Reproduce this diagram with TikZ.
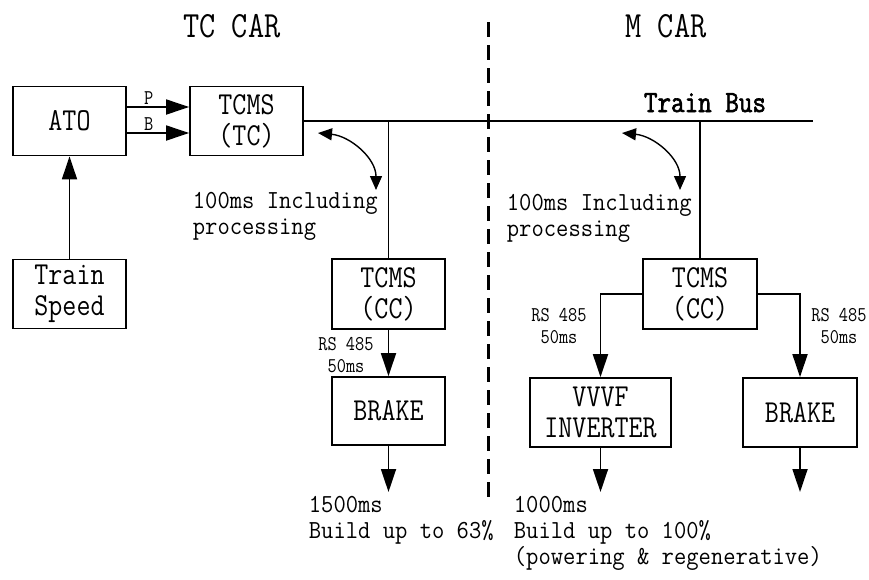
\documentclass[tikz,border=0pt]{standalone}
\usepackage{fontspec}
\setmainfont{Liberation Serif}
\newfontfamily\diagfont[FakeStretch=0.85]{Latin Modern Mono}
\newfontfamily\notefont[FakeStretch=0.92]{Latin Modern Mono}
\newfontfamily\busfont[FakeStretch=0.85, FakeBold=2]{Latin Modern Mono}
\usetikzlibrary{arrows.meta}

\newcommand{\boxfont}{\diagfont\fontsize{32}{31}\selectfont}
\newcommand{\labelfont}{\notefont\fontsize{26}{26}\selectfont}
\newcommand{\tinyfont}{\diagfont\fontsize{21}{22}\selectfont}
\newcommand{\titlefont}{\diagfont\fontsize{37}{37}\selectfont}

\tikzset{
  unitbox/.style={draw, line width=1.8pt, align=center, inner sep=0pt,
    minimum width=113pt, minimum height=69pt, font=\boxfont},
  labeltext/.style={inner sep=0pt, align=left, anchor=base west, font=\labelfont},
  ratetext/.style={inner sep=0pt, align=center, anchor=base, font=\tinyfont},
  looparrow/.style={line width=1.4pt,
    {Triangle[length=14pt,width=12pt]}-{Triangle[length=14pt,width=12pt]}},
}

\begin{document}
\begin{tikzpicture}[x=1pt, y=-1pt, line width=1.8pt,
    >={Triangle[length=23pt,width=15pt]}]
    \useasboundingbox (0,0) rectangle (869,579);

    % titles
    \node[font=\titlefont, anchor=base] (tctitle) at (232,37) {TC CAR};
    \node[font=\titlefont, anchor=base] (mtitle) at (666,37) {M CAR};

    % car divider (base of a multi-line node = its last line)
    \coordinate (divtop) at (488,22);
    \coordinate (divbot) at (488,500);
    \draw[line width=3pt, dash pattern=on 15pt off 8pt] (divtop) -- (divbot);

    % TC car
    \node[unitbox] (ato) at (69.5,121) {ATO};
    \node[unitbox] (tctc) at (246.5,121) {TCMS\\(TC)};
    \node[unitbox] (speed) at (69.5,294) {Train\\Speed};
    \node[unitbox, minimum height=70pt] (ccl) at (388.5,294) {TCMS\\(CC)};
    \node[unitbox, minimum height=68pt] (brakel) at (388.5,411) {BRAKE};

    \draw[->] ([yshift=14pt]ato.east) -- ([yshift=14pt]tctc.west)
        node[pos=0.35, above=2pt, inner sep=0pt, font=\tinyfont] (plbl) {P};
    \draw[->] ([yshift=-12pt]ato.east) -- ([yshift=-12pt]tctc.west)
        node[pos=0.35, above=2pt, inner sep=0pt, font=\tinyfont] (blbl) {B};
    \draw[->] (speed) -- (ato);

    % train bus
    \coordinate (busend) at (813,121);
    \draw (tctc.east) -- (busend);
    \node[font=\busfont\fontsize{31}{31}\selectfont, anchor=base west,
        inner sep=0pt] (buslbl) at (643,112) {Train Bus};
    \draw (ccl.north) -- (ccl.north |- busend);

    \draw[->] (ccl) -- (brakel);
    \node[ratetext] (ratel) at (346,372) {RS 485\\50ms};

    \coordinate (brakelout) at (388.5,492);
    \draw[->] (brakel) -- (brakelout);
    \node[labeltext] (tcresult) at (308,538) {1500ms\\Build up to 63\%};

    % bus delay loops
    \foreach \dx/\nm in {0/tc, 304/m} {
        \coordinate (\nm loopa) at ({318+\dx},133);
        \coordinate (\nm loopb) at ({376+\dx},190);
        \draw[looparrow] (\nm loopa) .. controls ({350+\dx},136) and ({376+\dx},158) .. (\nm loopb);
    }
    \node[labeltext] (tcdelay) at (192,234) {100ms Including\\processing};
    \node[labeltext] (mdelay) at (506,236) {100ms Including\\processing};

    % M car
    \node[unitbox, minimum width=114pt, minimum height=70pt] (ccr) at (700,294) {TCMS\\(CC)};
    \node[unitbox, minimum width=141pt] (vvvf) at (600.5,412.5) {VVVF\\INVERTER};
    \node[unitbox, minimum width=114pt] (braker) at (800,412.5) {BRAKE};
    \draw (ccr.north) -- (ccr.north |- busend);

    \draw[->] (ccr.west) -| (vvvf.north);
    \draw[->] (ccr.east) -| (braker.north);
    \node[ratetext] (ratev) at (559,343) {RS 485\\50ms};
    \node[ratetext] (rateb) at (839,343) {RS 485\\50ms};

    \coordinate (vvvfout) at (600.5,492);
    \coordinate (brakerout) at (800,492);
    \draw[->] (vvvf) -- (vvvfout);
    \draw[->] (braker) -- (brakerout);
    \node[labeltext] (mresult) at (513,564)
        {1000ms\\Build up to 100\%\\(powering \& regenerative)};
\end{tikzpicture}
\end{document}
